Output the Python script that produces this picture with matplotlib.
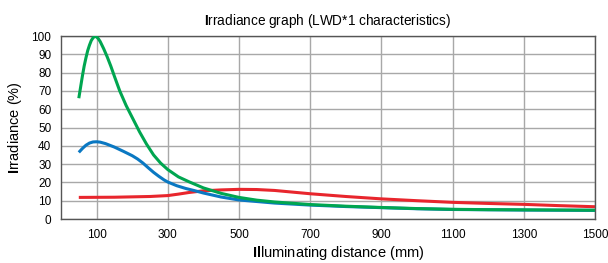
import matplotlib
matplotlib.use("Agg")
import matplotlib.pyplot as plt

green_x = [50, 55, 60, 65, 70, 75, 80, 85, 90, 95, 100, 105, 110, 120, 130, 140, 150, 165, 183, 200, 221, 240, 260, 280, 300, 330, 360, 400, 450, 500, 550, 600, 700, 800, 900, 1000, 1100, 1200, 1300, 1500]
green_y = [66, 72, 78, 83.5, 88, 92, 95, 97.5, 99, 99.8, 99.5, 98.5, 97, 93, 88.5, 83.5, 78, 70, 62, 55.5, 47.5, 41, 35, 30.5, 27, 23, 20.3, 17, 14, 11.8, 10.3, 9.3, 7.9, 7, 6.3, 5.7, 5.3, 5.1, 5.0, 4.8]

blue_x = [50, 60, 70, 80, 90, 100, 110, 125, 150, 175, 200, 215, 230, 245, 260, 275, 290, 300, 325, 350, 375, 400, 450, 500, 600, 700, 800, 900, 1000, 1100, 1300, 1500]
blue_y = [36.4, 38.5, 40.3, 41.5, 42.1, 42.2, 42, 41.2, 39.3, 37, 34.6, 32.8, 30.6, 28, 25.5, 23.3, 21.3, 20.2, 18.2, 16.7, 15.5, 14.2, 12, 10.4, 8.7, 7.6, 6.8, 6.2, 5.6, 5.2, 4.9, 4.7]

red_x = [50, 150, 250, 300, 330, 360, 400, 450, 500, 550, 600, 700, 800, 900, 1000, 1100, 1200, 1300, 1400, 1500]
red_y = [11.8, 11.9, 12.3, 12.8, 13.6, 14.5, 15.4, 15.9, 16.2, 16.1, 15.6, 13.8, 12.3, 11, 10, 9.1, 8.5, 8, 7.3, 6.7]

x_ticks = [100, 300, 500, 700, 900, 1100, 1300, 1500]
y_ticks = list(range(0, 101, 10))

title = r"$\mathbf{I}$rradiance graph (LWD*1 characteristics)"
x_label = r"$\mathbf{Il}$luminating distance (mm)"
y_label = r"$\mathbf{I}$rradiance (%)"

plt.rcParams['font.family'] = ['Liberation Sans', 'DejaVu Sans']
plt.rcParams['mathtext.fontset'] = 'custom'
plt.rcParams['mathtext.rm'] = 'Liberation Sans'
plt.rcParams['mathtext.bf'] = 'Liberation Sans:bold'

fig = plt.figure(figsize=(6.08, 2.63), dpi=100)
ax = fig.add_axes([61/608, 44/263, 534/608, 183/263])

ax.plot(blue_x, blue_y, color='#0a78c2', lw=2.2, solid_capstyle='butt', solid_joinstyle='round', zorder=3)
ax.plot(green_x, green_y, color='#00a650', lw=2.2, solid_capstyle='butt', solid_joinstyle='round', zorder=4)
ax.plot(red_x, red_y, color='#e8262d', lw=2.2, solid_capstyle='butt', solid_joinstyle='round', zorder=2)

ax.set_xlim(0, 1500)
ax.set_ylim(0, 100)
ax.set_xticks(x_ticks)
ax.set_yticks(y_ticks)
ax.tick_params(length=0, labelsize=8.5, pad=7)
ax.grid(True, color='#a8a8a8', lw=1.0)
ax.set_axisbelow(True)
for s in ax.spines.values():
    s.set_color('#555555')
    s.set_linewidth(1.0)

ax.set_title(title, fontsize=9.8, pad=8)
ax.set_xlabel(x_label, fontsize=10.5, labelpad=2, x=0.52)
ax.set_ylabel(y_label, fontsize=10.5, labelpad=5)

fig.savefig("out.png", dpi=100)
